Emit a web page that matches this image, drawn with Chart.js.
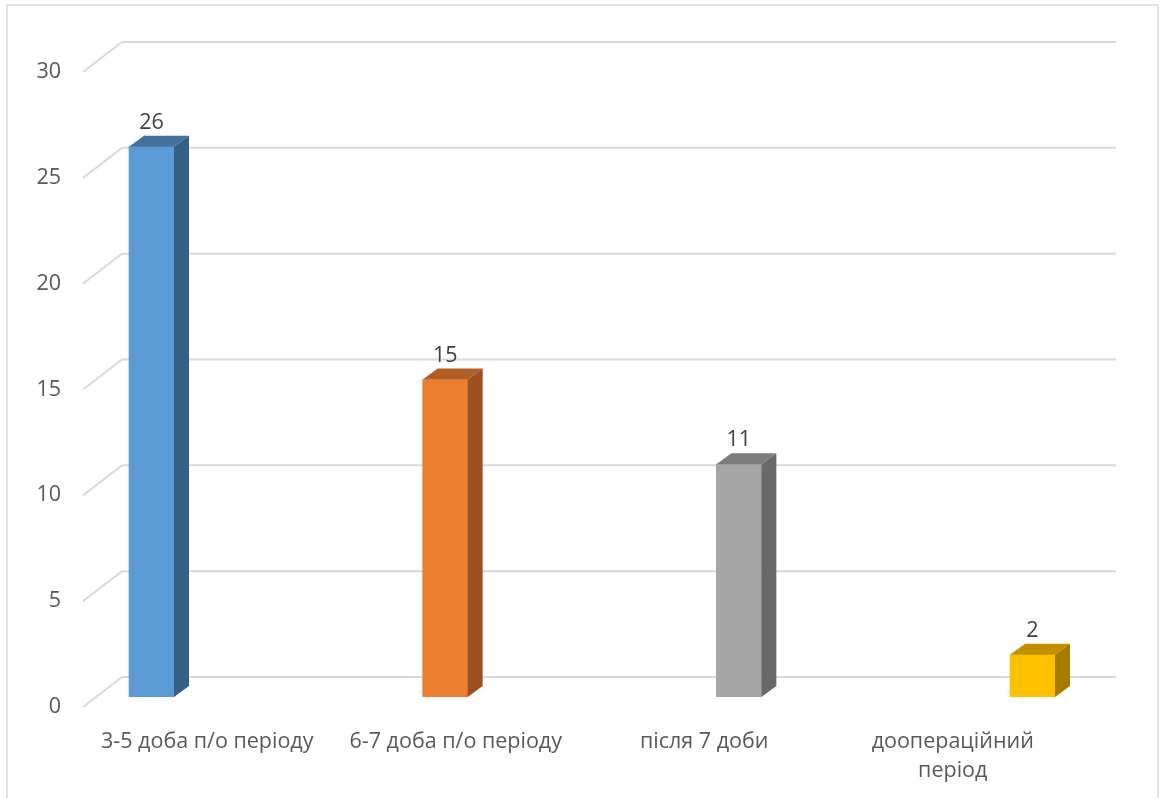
<!DOCTYPE html>
<html lang="uk">
  <head>
    <meta charset="UTF-8" />
    <title>Розподіл за періодом</title>
    <script src="https://cdn.jsdelivr.net/npm/chart.js@4.4.1/dist/chart.umd.min.js"></script>
    <style>
      body { margin: 0; background: #fff; }
      canvas { display: block; }
    </style>
  </head>
  <body>
    <canvas id="chart" width="1166" height="798"></canvas>
    <script>
    // categories and counts
    const categories = ['3-5 доба п/о періоду', '6-7 доба п/о періоду', 'після 7 доби', ['доопераційний', 'період']];
    const counts = [26, 15, 11, 2];
    const yTicks = [0, 5, 10, 15, 20, 25, 30];

    const frontColors = ['#5b9bd5', '#ed7d31', '#a5a5a5', '#ffc000'];
    const topColors = ['#41719c', '#b05e24', '#7c7c7c', '#bf9000'];
    const sideColors = ['#375f85', '#9a5020', '#6a6a6a', '#a57c00'];

    const FONT = '"Open Sans", sans-serif';
    const FONT_SIZE = 21.5;
    // depth of the floor / walls, and of each column
    const WALL_DX = 39, WALL_DY = -30;
    const BAR_DX = 15, BAR_DY = -11;
    const BAR_SHIFT = -10;

    const threeD = {
      id: 'threeD',
      beforeDraw(chart) {
        const ctx = chart.ctx;
        ctx.save();
        ctx.strokeStyle = '#d9d9d9';
        ctx.lineWidth = 1.5;
        ctx.strokeRect(7, 5, 1151, 800);
        ctx.restore();
      },
      beforeDatasetsDraw(chart) {
        const ctx = chart.ctx;
        const y = chart.scales.y;
        const area = chart.chartArea;
        ctx.save();
        ctx.strokeStyle = '#d9d9d9';
        ctx.lineWidth = 2;
        y.ticks.forEach(t => {
          const py = y.getPixelForValue(t.value);
          ctx.beginPath();
          ctx.moveTo(area.left, py);
          ctx.lineTo(area.left + WALL_DX, py + WALL_DY);
          ctx.lineTo(area.right + WALL_DX, py + WALL_DY);
          ctx.stroke();
        });
        ctx.restore();
        ctx.save();
        ctx.translate(0, BAR_SHIFT);
      },
      afterDatasetsDraw(chart) {
        const ctx = chart.ctx;
        const meta = chart.getDatasetMeta(0);
        meta.data.forEach((bar, i) => {
          const l = bar.x - bar.width / 2, r = bar.x + bar.width / 2;
          const t = bar.y, b = bar.base;
          // top face
          ctx.fillStyle = topColors[i];
          ctx.beginPath();
          ctx.moveTo(l, t);
          ctx.lineTo(l + BAR_DX, t + BAR_DY);
          ctx.lineTo(r + BAR_DX, t + BAR_DY);
          ctx.lineTo(r, t);
          ctx.closePath();
          ctx.fill();
          // side face
          ctx.fillStyle = sideColors[i];
          ctx.beginPath();
          ctx.moveTo(r, t);
          ctx.lineTo(r + BAR_DX, t + BAR_DY);
          ctx.lineTo(r + BAR_DX, b + BAR_DY);
          ctx.lineTo(r, b);
          ctx.closePath();
          ctx.fill();
          // value label
          ctx.fillStyle = '#404040';
          ctx.font = FONT_SIZE + 'px ' + FONT;
          ctx.textAlign = 'center';
          ctx.textBaseline = 'middle';
          ctx.fillText(String(counts[i]), bar.x, t - 24);
        });
        ctx.restore();
      }
    };

    new Chart(document.getElementById('chart'), {
      type: 'bar',
      data: {
        labels: categories,
        datasets: [{
          data: counts.map((v, i) => ({ x: i, y: v })),
          xAxisID: 'xBar',
          yAxisID: 'y',
          backgroundColor: frontColors,
          borderWidth: 0,
          barThickness: 45
        }]
      },
      options: {
        responsive: false,
        animation: false,
        layout: { padding: { top: 72, right: 89, left: 0, bottom: 0 } },
        plugins: { legend: { display: false }, tooltip: { enabled: false } },
        scales: {
          x: {
            type: 'category',
            offset: true,
            grid: { display: false, drawTicks: false },
            border: { display: false },
            ticks: { color: '#595959', font: { family: FONT, size: FONT_SIZE, lineHeight: 1.35 }, padding: 20, maxRotation: 0, autoSkip: false },
            afterFit: s => { s.height = 91; }
          },
          // columns stand on a wider row set deeper than the floor labels
          xBar: {
            type: 'linear',
            axis: 'x',
            display: false,
            offset: false,
            min: -0.2333,
            max: 3.1515
          },
          y: {
            min: 0,
            max: 30,
            afterBuildTicks: s => { s.ticks = yTicks.map(v => ({ value: v })); },
            grid: { display: false, drawTicks: false },
            border: { display: false },
            ticks: { color: '#595959', font: { family: FONT, size: FONT_SIZE }, padding: 22 },
            afterFit: s => { s.width = 83; }
          }
        }
      },
      plugins: [threeD]
    });
    </script>
  </body>
</html>
